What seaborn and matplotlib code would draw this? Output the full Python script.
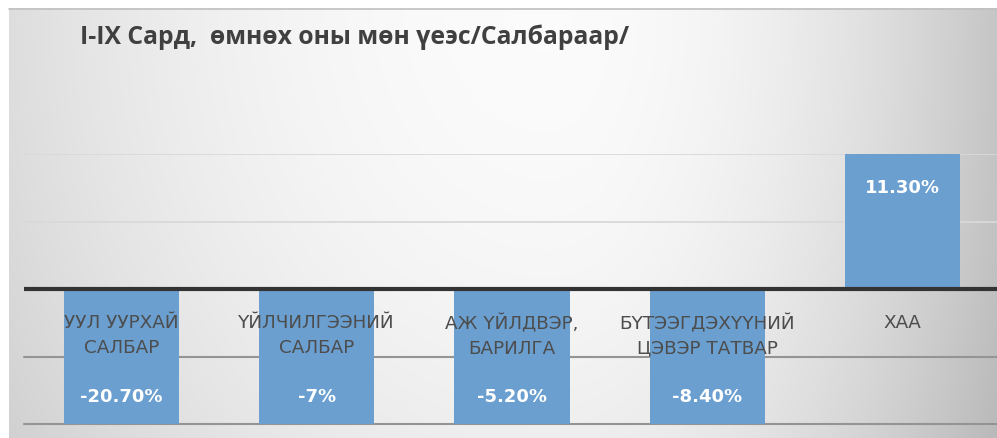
import matplotlib
matplotlib.use("Agg")
import matplotlib.pyplot as plt
import seaborn as sns
import numpy as np

# chart data
categories = ["УУЛ УУРХАЙ\nСАЛБАР", "ҮЙЛЧИЛГЭЭНИЙ\nСАЛБАР", "АЖ ҮЙЛДВЭР,\nБАРИЛГА",
              "БҮТЭЭГДЭХҮҮНИЙ\nЦЭВЭР ТАТВАР", "ХАА"]
values = [-20.7, -7.0, -5.2, -8.4, 11.3]
value_labels = ["-20.70%", "-7%", "-5.20%", "-8.40%", "11.30%"]
title = "I-IX Сард,  өмнөх оны мөн үеэс/Салбараар/"

bar_color = "#6a9fd0"

sns.set_theme(style="white")
plt.rcParams['font.family'] = ['DejaVu Sans']

fig = plt.figure(figsize=(9.97, 4.39), dpi=100)

# gradient background
bg = fig.add_axes([0, 0, 1, 1], zorder=-10)
xx, yy = np.meshgrid(np.linspace(0, 1, 400), np.linspace(0, 1, 200))
d = np.where(xx < 0.55, (0.55 - xx) / 0.55, (xx - 0.55) / 0.45)
c = np.where(xx < 0.55, 0.12, 0.21)
b = 0.985 - c * d ** 2 - 0.05 * yy ** 2
b = np.clip(b, 0, 1)
bg.imshow(np.dstack([b, b, b]), extent=[0, 1, 0, 1], aspect="auto", origin="upper")
bg.axvspan(0, 9 / 997, color="white", lw=0)
bg.axhspan(1 - 9 / 439, 1, color="white", lw=0)
bg.plot([9 / 997, 1], [1 - 9.5 / 439] * 2, color="#c0c0c0", lw=1.2)
bg.set_xlim(0, 1)
bg.set_ylim(0, 1)
bg.axis("off")

# main axes
ax = fig.add_axes([23.5 / 997, 1 - 425 / 439, 977 / 997, 270 / 439])
ax.patch.set_alpha(0)

# the source picture stretches the negative side of the axis
neg_stretch = 11.3 / 5.2
ax.set_yscale("function", functions=(lambda v: np.where(v < 0, v * neg_stretch, v),
                                    lambda t: np.where(t < 0, t / neg_stretch, t)))

sns.barplot(x=categories, y=values, color=bar_color, saturation=1, width=0.59,
            linewidth=0, ax=ax, zorder=2)
ax.set_ylim(-5.2, 11.3)
ax.set_xlim(-0.5, 4.5)

for g in [11.3, 5.65]:
    ax.axhline(g, color="#d9d9d9", lw=1.3, zorder=0)
for g in [-2.6, -5.2]:
    ax.axhline(g, color="#949494", lw=1.5, zorder=0, clip_on=False)
ax.axhline(0, color="#333333", lw=3, zorder=3)

for s in ax.spines.values():
    s.set_visible(False)
ax.set_xticks([])
ax.set_yticks([])
ax.set_xlabel("")
ax.set_ylabel("")

# category labels
trans = ax.get_xaxis_transform()
for i, cat in enumerate(categories):
    ax.text(i, 0.41, cat, transform=trans, ha="center", va="top",
            fontsize=13.2, color="#4d4d4d", linespacing=1.45,
            family=["Liberation Sans Narrow", "DejaVu Sans"], zorder=4)

# value labels
ymin = ax.get_ylim()[0]
for i, (v, lab) in enumerate(zip(values, value_labels)):
    if v >= 0:
        ax.annotate(lab, (i, v), xytext=(0, -24), textcoords="offset points",
                    ha="center", va="center", color="white", fontsize=13,
                    fontweight="bold", zorder=5)
    else:
        ax.annotate(lab, (i, max(v, ymin)), xytext=(0, 20), textcoords="offset points",
                    ha="center", va="center", color="white", fontsize=13,
                    fontweight="bold", zorder=5, annotation_clip=False)

fig.text(80 / 997, 1 - 37 / 439, title, ha="left", va="center", fontsize=17.8,
         fontweight="bold", color="#404040", family=["Open Sans", "DejaVu Sans"])

fig.savefig("out.png", dpi=100)
